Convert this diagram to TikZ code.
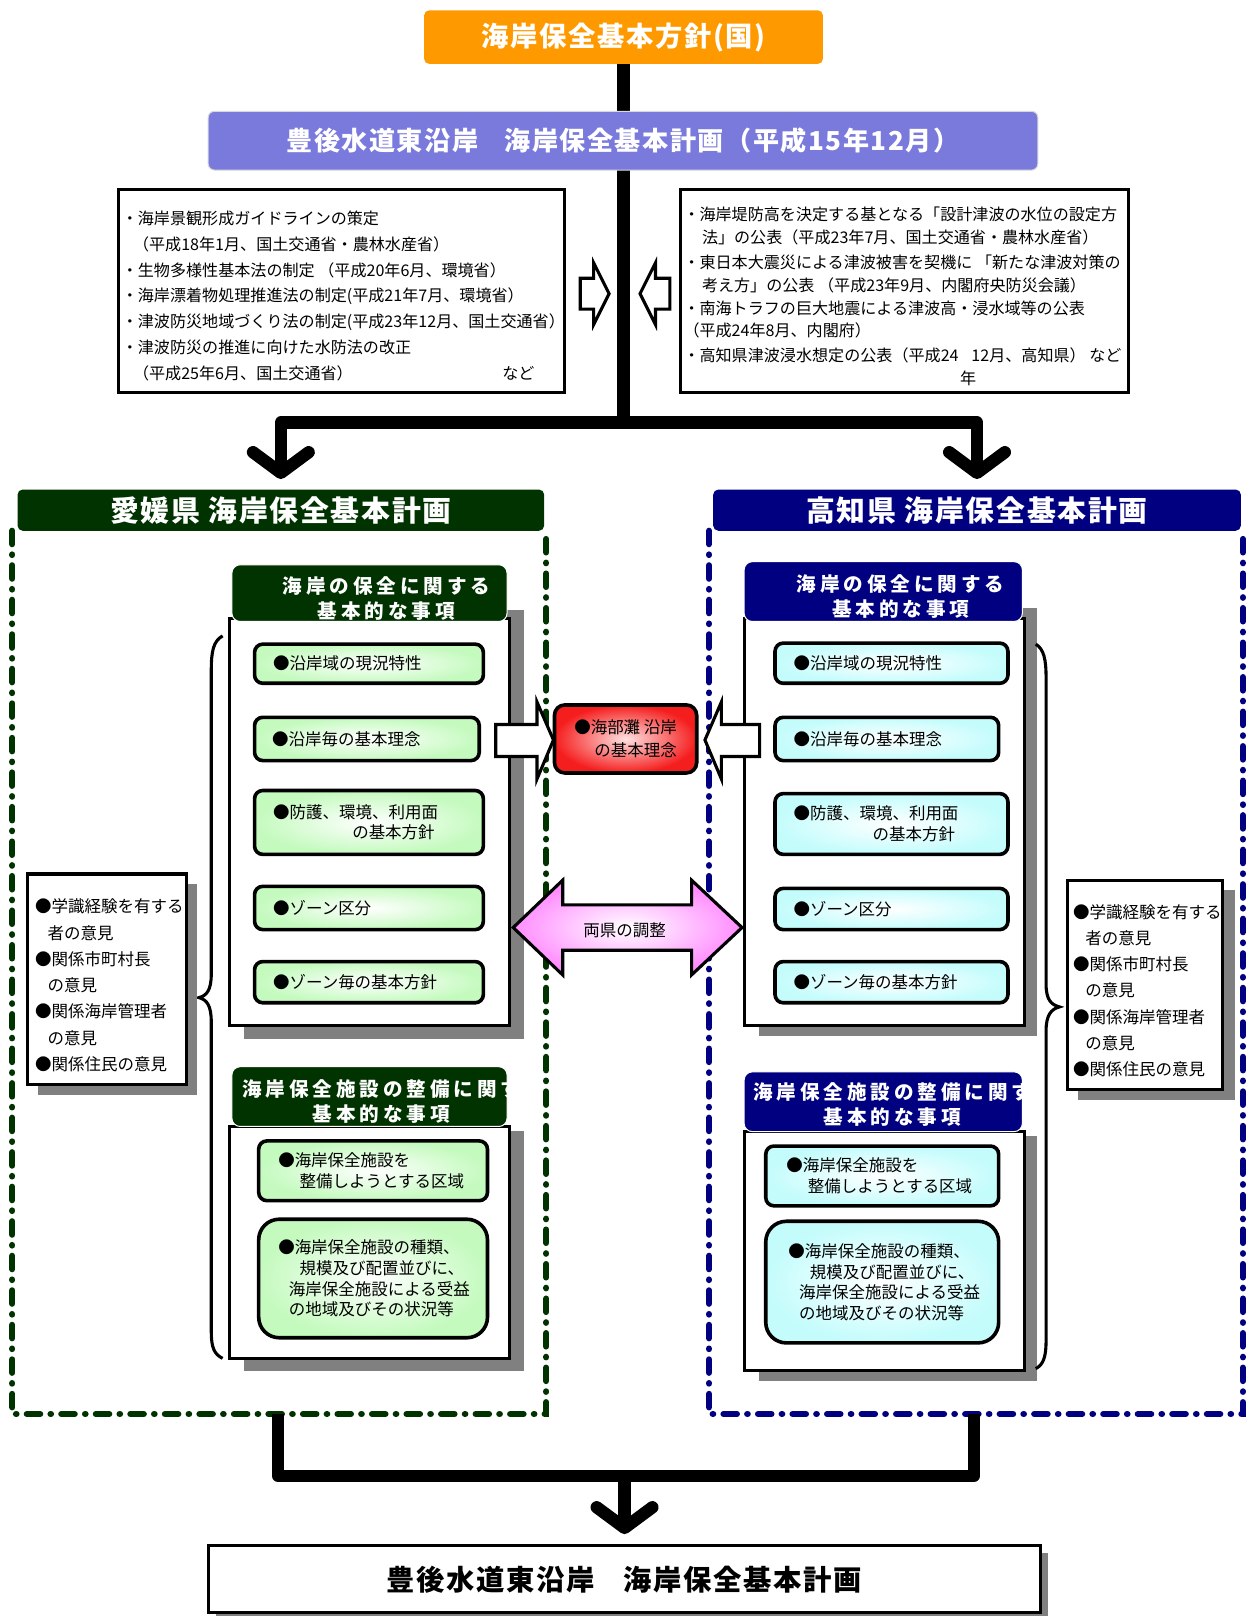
\documentclass[tikz,border=0pt]{standalone}
\usepackage{fontspec}
\setmainfont{Noto Sans CJK JP}
\newfontfamily\headjp{Noto Sans CJK JP}[LetterSpace=6]
\newfontfamily\subjp{Noto Sans CJK JP}[LetterSpace=20]
\usetikzlibrary{calc,arrows.meta}
\definecolor{kuniorange}{RGB}{255,153,0}
\definecolor{bungoblue}{RGB}{122,122,220}
\definecolor{ehimegreen}{RGB}{0,51,0}
\definecolor{kochinavy}{RGB}{0,0,128}
\definecolor{itemgreen}{RGB}{196,250,190}
\definecolor{itemcyan}{RGB}{196,252,252}
\definecolor{kaifured}{RGB}{245,30,30}
\definecolor{kaifupale}{RGB}{255,225,225}
\definecolor{chouseipink}{RGB}{255,140,255}
\definecolor{shadowgray}{RGB}{128,128,128}
\newcommand\fsz[2]{\fontsize{#1pt}{#2pt}\selectfont}

\tikzset{
  trunk/.style={line width=12pt, line join=round},
  chevron/.style={-{Straight Barb[length=20pt,width=54pt,round]}},
  titlebox/.style={fill=#1, rounded corners=5pt, text=white, font=\headjp\bfseries\fsz{28}{32}},
  infobox/.style={draw=black, line width=3pt, fill=white},
  frame/.style={line width=6pt, line cap=round, dash pattern=on 13pt off 10pt on 0.5pt off 10pt},
  subhead/.style={fill=#1, draw=white, line width=1pt, rounded corners=8pt},
  subtext/.style={text=white, font=\subjp\bfseries\fsz{19}{24}, align=center, inner sep=0pt},
  panelbox/.style={draw=black, line width=3pt, fill=white},
  item/.style={draw=black, line width=3.5pt, rounded corners=8pt, inner color=white, outer color=#1, align=left, inner sep=0pt, font=\fsz{16}{20}},
  opinion/.style={align=left, inner sep=0pt, anchor=north west, font=\fsz{16}{25.5}},
  hollow/.style={draw=black, line width=3pt, fill=white, line join=miter},
  plaintext/.style={align=left, inner sep=0pt, anchor=north west, font=\fsz{15.6}{25}},
}

\begin{document}
\begin{tikzpicture}[x=1pt,y=-1pt]
\useasboundingbox (0,0) rectangle (1210,1568);

% national policy, trunk line
\node[titlebox=kuniorange, minimum width=387pt, minimum height=52pt, font=\headjp\bfseries\fsz{26.5}{30}] (kuni) at (605,36) {海岸保全基本方針(国)};
\coordinate (split) at (605,410);
\draw[trunk] (kuni.south) -- (split);
\node[fill=bungoblue, draw=white!85!black, line width=1pt, rounded corners=6pt, minimum width=805pt, minimum height=57pt, text=white, font=\headjp\bfseries\fsz{25.3}{30}] (bungo) at (604.5,136.5) {豊後水道東沿岸\quad 海岸保全基本計画（平成15年12月）};

% background changes
\node[infobox, minimum width=433pt, minimum height=197pt] (lawbox) at (331.5,282.5) {};
\node[plaintext] (lawtext) at (118,204.5) {・海岸景観形成ガイドラインの策定\\
  \hspace*{0.7em}（平成18年1月、国土交通省・農林水産省）\\
  ・生物多様性基本法の制定 （平成20年6月、環境省）\\
  ・海岸漂着物処理推進法の制定(平成21年7月、環境省）\\
  ・津波防災地域づくり法の制定(平成23年12月、国土交通省）\\
  ・津波防災の推進に向けた水防法の改正\\
  \hspace*{0.7em}（平成25年6月、国土交通省）\hspace*{9.3em}など};
\node[infobox, minimum width=435pt, minimum height=197pt] (tsunamibox) at (877.5,282.5) {};
\node[plaintext, font=\fsz{15.6}{22}] (tsunamitext) at (663,200.5) {・海岸堤防高を決定する基となる「設計津波の水位の設定方\\
  \hspace*{1.15em}法」の公表（平成23年7月、国土交通省・農林水産省）\\[3pt]
  ・東日本大震災による津波被害を契機に 「新たな津波対策の\\
  \hspace*{1.15em}考え方」の公表 （平成23年9月、内閣府央防災会議）\\
  ・南海トラフの巨大地震による津波高・浸水域等の公表\\
  （平成24年8月、内閣府）\\[2pt]
  ・高知県津波浸水想定の公表（平成24\hspace{0.8em}12月、高知県） など\\
  \hspace*{17.2em}年};
\draw[hollow] (563,270) -- (576,270) -- (576,255) -- (591,285) -- (576,315) -- (576,300) -- (563,300) -- cycle;
\draw[hollow] (650,270) -- (636,270) -- (636,255) -- (621,285) -- (636,315) -- (636,300) -- (650,300) -- cycle;

% prefecture frames
\draw[frame, ehimegreen] (12,515) -- (12,1372) -- (530,1372) -- (530,515);
\draw[frame, kochinavy] (688,515) -- (688,1372) -- (1206,1372) -- (1206,515);
\coordinate (ehimefoot) at (270,1372);
\coordinate (kochifoot) at (945,1372);
\node[titlebox=ehimegreen, minimum width=511pt, minimum height=40pt] (ehime) at (272.5,495) {愛媛県 海岸保全基本計画};
\node[titlebox=kochinavy, minimum width=512pt, minimum height=40pt] (kochi) at (948,495) {高知県 海岸保全基本計画};
\draw[trunk,chevron] (split) -| ($(ehime.north)+(0,-10)$);
\draw[trunk,chevron] (split) -| ($(kochi.north)+(0,-10)$);

% Ehime: coast conservation
\fill[shadowgray] (237,592) rectangle (508,1008);
\node[panelbox, minimum width=271pt, minimum height=395pt] (lbox1) at (358.5,797.5) {};
\node[subhead=ehimegreen, minimum width=267pt, minimum height=55pt] (lhead1) at (358.5,575.5) {};
\node[subtext] (lhead1t) at (375,581) {海岸の保全に関する\\基本的な事項};
\node[item=itemgreen, minimum width=222pt, minimum height=38pt, text width=186pt] (lcur) at (358,644) {●沿岸域の現況特性};
\node[item=itemgreen, minimum width=218pt, minimum height=42pt, text width=184pt] (lidea) at (356,717) {●沿岸毎の基本理念};
\node[item=itemgreen, minimum width=222pt, minimum height=62pt, text width=186pt] (lpolicy) at (358,798) {●防護、環境、利用面\\\hspace*{4.8em}の基本方針};
\node[item=itemgreen, minimum width=222pt, minimum height=42pt, text width=186pt] (lzone) at (358,881) {●ゾーン区分};
\node[item=itemgreen, minimum width=222pt, minimum height=40pt, text width=186pt] (lzonepol) at (358,953) {●ゾーン毎の基本方針};

% Ehime: facilities
\fill[shadowgray] (237,1097) rectangle (508,1330);
\node[panelbox, minimum width=271pt, minimum height=225pt] (lbox2) at (358.5,1205.5) {};
\node[subhead=ehimegreen, minimum width=267pt, minimum height=58pt] (lhead2) at (358.5,1064) {};
\begin{scope}
  \clip (lhead2.south west) rectangle (lhead2.north east);
  \node[subtext] (lhead2t) at (370,1069) {海岸保全施設の整備に関す\\基本的な事項};
\end{scope}
\node[item=itemgreen, minimum width=222pt, minimum height=58pt, text width=184pt] (larea) at (362,1136) {●海岸保全施設を\\\hspace*{1.3em}整備しようとする区域};
\node[item=itemgreen, rounded corners=20pt, minimum width=222pt, minimum height=115pt, text width=184pt] (lkind) at (362,1240.5) {●海岸保全施設の種類、\\\hspace*{1.3em}規模及び配置並びに、\\\hspace*{0.65em}海岸保全施設による受益\\\hspace*{0.65em}の地域及びその状況等};

% Ehime: opinions
\draw[line width=3pt] (216,617) .. controls (207,622) and (205,632) .. (205,650) -- (205,945) .. controls (205,960) and (201,966) .. (193,968) .. controls (201,970) and (205,976) .. (205,992) -- (205,1292) .. controls (205,1308) and (208,1314) .. (216,1318);
\fill[shadowgray] (37,858) rectangle (191,1062);
\node[infobox, minimum width=154pt, minimum height=204pt] (lopin) at (104,950) {};
\node[opinion] (lopint) at (34,872) {●学識経験を有する\\\hspace*{0.75em}者の意見\\●関係市町村長\\\hspace*{0.75em}の意見\\●関係海岸管理者\\\hspace*{0.75em}の意見\\●関係住民の意見};

% Kochi: coast conservation
\fill[shadowgray] (736,590) rectangle (1006,1005);
\node[panelbox, minimum width=272pt, minimum height=395pt] (rbox1) at (858,797.5) {};
\node[subhead=kochinavy, minimum width=270pt, minimum height=58pt] (rhead1) at (857,574) {};
\node[subtext] (rhead1t) at (874,579) {海岸の保全に関する\\基本的な事項};
\node[item=itemcyan, minimum width=226pt, minimum height=39pt, text width=190pt] (rcur) at (865,643.5) {●沿岸域の現況特性};
\node[item=itemcyan, minimum width=217pt, minimum height=42pt, text width=181pt] (ridea) at (860.5,717) {●沿岸毎の基本理念};
\node[item=itemcyan, minimum width=226pt, minimum height=59pt, text width=190pt] (rpolicy) at (865,799.5) {●防護、環境、利用面\\\hspace*{4.8em}の基本方針};
\node[item=itemcyan, minimum width=226pt, minimum height=40pt, text width=190pt] (rzone) at (865,882) {●ゾーン区分};
\node[item=itemcyan, minimum width=226pt, minimum height=40pt, text width=190pt] (rzonepol) at (865,953) {●ゾーン毎の基本方針};

% Kochi: facilities
\fill[shadowgray] (736,1102) rectangle (1006,1340);
\node[panelbox, minimum width=272pt, minimum height=232pt] (rbox2) at (858,1214) {};
\node[subhead=kochinavy, minimum width=270pt, minimum height=58pt] (rhead2) at (857,1069) {};
\begin{scope}
  \clip (rhead2.south west) rectangle (rhead2.north east);
  \node[subtext] (rhead2t) at (866,1072) {海岸保全施設の整備に関す\\基本的な事項};
\end{scope}
\node[item=itemcyan, minimum width=226pt, minimum height=58pt, text width=186pt] (rarea) at (856,1141) {●海岸保全施設を\\\hspace*{1.3em}整備しようとする区域};
\node[item=itemcyan, rounded corners=20pt, minimum width=226pt, minimum height=118pt, text width=182pt] (rkind) at (856,1244) {●海岸保全施設の種類、\\\hspace*{1.3em}規模及び配置並びに、\\\hspace*{0.65em}海岸保全施設による受益\\\hspace*{0.65em}の地域及びその状況等};

% Kochi: opinions
\draw[line width=3pt] (1005,625) .. controls (1013,630) and (1015,640) .. (1015,658) -- (1015,955) .. controls (1015,970) and (1020,975) .. (1028,977) .. controls (1020,979) and (1015,985) .. (1015,1000) -- (1015,1300) .. controls (1015,1318) and (1012,1324) .. (1005,1328);
\fill[shadowgray] (1046,864) rectangle (1198,1067);
\node[infobox, minimum width=150pt, minimum height=203pt] (ropin) at (1111,955.5) {};
\node[opinion] (ropint) at (1041,877) {●学識経験を有する\\\hspace*{0.75em}者の意見\\●関係市町村長\\\hspace*{0.75em}の意見\\●関係海岸管理者\\\hspace*{0.75em}の意見\\●関係住民の意見};

% shared between the prefectures
\node[draw=black, line width=3.5pt, rounded corners=10pt, inner color=kaifupale, outer color=kaifured, minimum width=138pt, minimum height=66pt, align=right, font=\fsz{16}{22}] (kaifu) at (607,717) {●海部灘 沿岸\\の基本理念};
\draw[hollow] (481,703) -- (521,703) -- (521,681) -- (537,718) -- (521,756) -- (521,734) -- (481,734) -- cycle;
\draw[hollow] (737,703) -- (700,703) -- (700,681) -- (684,718) -- (700,756) -- (700,734) -- (737,734) -- cycle;
\shadedraw[draw=black, line width=3pt, line join=miter, inner color=white, outer color=chouseipink] (498,900) -- (546,854) -- (546,878) -- (671,878) -- (671,854) -- (720,900) -- (671,946) -- (671,922) -- (546,922) -- (546,946) -- cycle;
\node[font=\fsz{16}{20}] (chousei) at (606,903) {両県の調整};

% result
\coordinate (merge) at (606,1432);
\draw[trunk] (ehimefoot) |- (merge) -| (kochifoot);
\fill[shadowgray] (210,1507) rectangle (1017,1568);
\node[infobox, minimum width=808pt, minimum height=65pt, font=\headjp\bfseries\fsz{27.5}{32}] (final) at (606,1532.5) {豊後水道東沿岸\quad 海岸保全基本計画};
\draw[trunk,chevron] (merge) -- ($(final.north)+(0,-10)$);
\end{tikzpicture}
\end{document}
